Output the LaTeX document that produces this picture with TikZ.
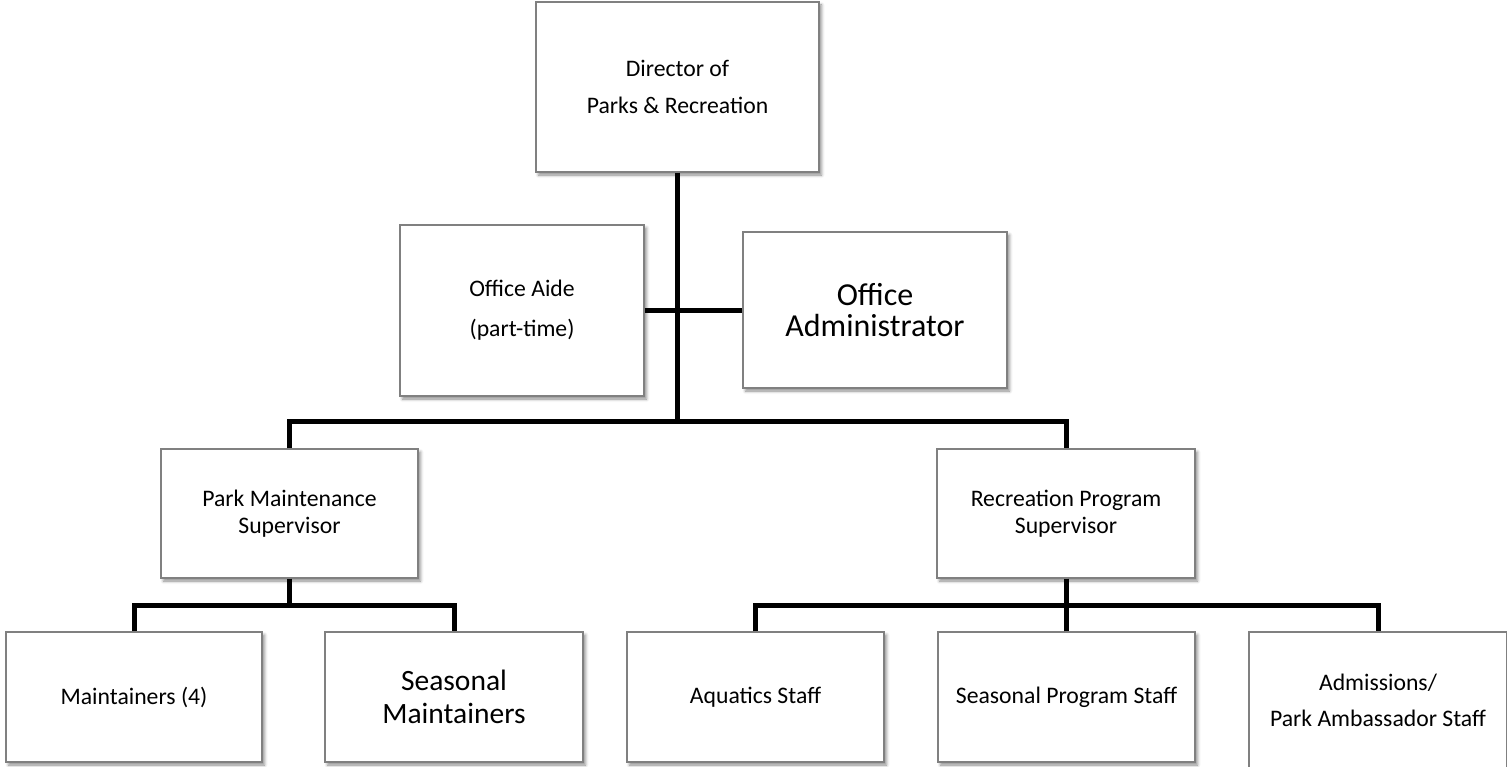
\documentclass[tikz,border=0pt]{standalone}
\usepackage{fontspec}
\setmainfont{Carlito}
\usetikzlibrary{shadows.blur}
\definecolor{boxgray}{RGB}{128,128,128}
\begin{document}
\begin{tikzpicture}[x=1pt,y=-1pt,
  box/.style={draw=boxgray, line width=1.3pt, fill=white, align=center, inner sep=0pt,
    blur shadow={shadow xshift=2.5pt, shadow yshift=-3pt, shadow blur radius=3pt, shadow opacity=45}},
  txt/.style={font=\fontsize{23.7}{27}\selectfont},
  big/.style={font=\fontsize{29.5}{33}\selectfont},
  link/.style={line width=5pt, line join=miter}]
\useasboundingbox (0,0) rectangle (1507,767);

% top level
\node[box, txt, minimum width=283pt, minimum height=170pt] (dir) at (677.5,87)
  {Director of\\[10pt]Parks \& Recreation};

% office staff
\node[box, txt, minimum width=244pt, minimum height=171pt] (aide) at (522,310.5)
  {Office Aide\\[13pt](part-time)};
\node[box, font=\fontsize{32}{31}\selectfont, minimum width=264pt, minimum height=156pt] (admin) at (875,310)
  {Office\\Administrator};

% supervisors
\node[box, txt, minimum width=257pt, minimum height=129pt] (pms) at (289.5,513.5)
  {Park Maintenance\\Supervisor};
\node[box, txt, minimum width=258pt, minimum height=129pt] (rps) at (1066,513.5)
  {Recreation Program\\Supervisor};

% staff
\node[box, txt, minimum width=256pt, minimum height=130pt] (maint) at (134,697) {Maintainers (4)};
\node[box, big, minimum width=258pt, minimum height=130pt] (seasm) at (454,697) {Seasonal\\Maintainers};
\node[box, txt, minimum width=257pt, minimum height=130pt] (aqua) at (755.5,697) {Aquatics Staff};
\node[box, txt, minimum width=257pt, minimum height=130pt] (sps) at (1066.5,697) {Seasonal Program Staff};
\node[box, txt, minimum width=258pt, minimum height=136pt] (adm) at (1378,700)
  {Admissions/\\[9pt]Park Ambassador Staff};

% junctions
\coordinate (hub) at (677.5,421);
\coordinate (lhub) at (289.5,605);
\coordinate (rhub) at (1066,605);

% connectors
\draw[link] (dir.south) -- (hub);
\draw[link] (aide.east) -- (aide.east -| admin.west);
\draw[link] (pms.north) |- (hub) -| (rps.north);
\draw[link] (pms.south) -- (lhub);
\draw[link] (maint.north) |- (lhub) -| (seasm.north);
\draw[link] (rps.south) -- (rhub);
\draw[link] (aqua.north) |- (rhub) -| (adm.north);
\draw[link] (sps.north) -- (sps.north |- rhub);
\end{tikzpicture}
\end{document}
